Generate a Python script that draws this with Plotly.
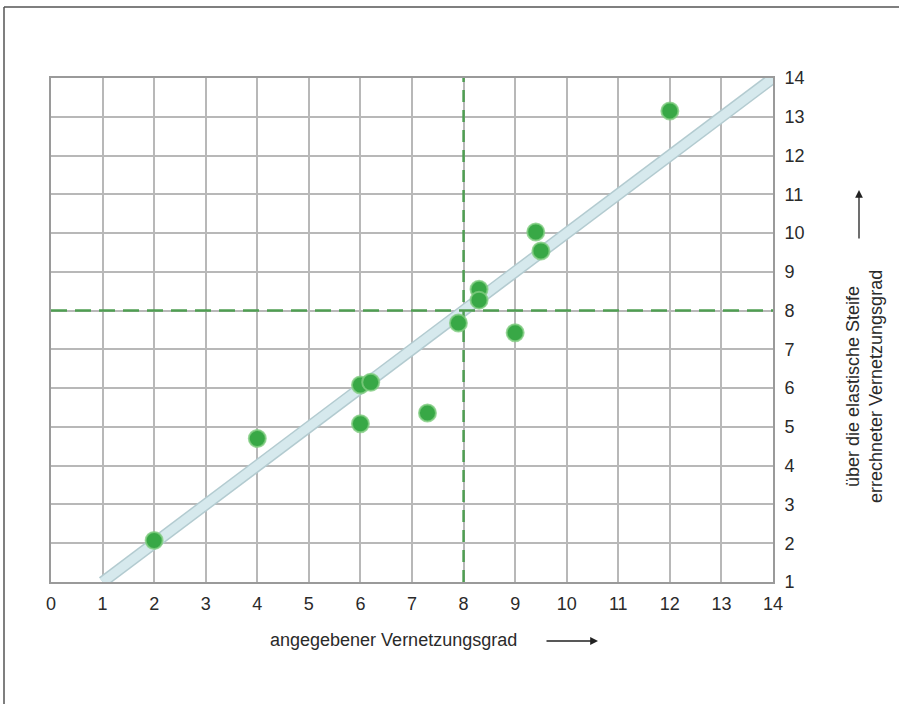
import plotly.graph_objects as go

# Data
x_vals = [2, 4, 6, 6.2, 6, 7.3, 7.9, 8.3, 8.3, 9.0, 9.4, 9.5, 12]
y_vals = [2.07, 4.7, 6.08, 6.15, 5.08, 5.36, 7.68, 8.55, 8.27, 7.43, 10.03, 9.54, 13.15]
ideal_x = [1, 14]
ideal_y = [1, 14]
mark_value = 8
x_ticks = list(range(0, 15))
y_ticks = list(range(1, 15))
x_title = "angegebener Vernetzungsgrad"
y_title = "über die elastische Steife<br>errechneter Vernetzungsgrad"

W, H = 899, 704
L, R, T, B = 51, 773, 78, 582

def px(x):
    return (x - L) / (R - L)

def py(y):
    return (B - y) / (B - T)

fig = go.Figure()

# Reference diagonal (band with edges)
fig.add_trace(go.Scatter(x=ideal_x, y=ideal_y, mode="lines",
                         line=dict(color="#b3cbd0", width=12), hoverinfo="skip", showlegend=False))
fig.add_trace(go.Scatter(x=ideal_x, y=ideal_y, mode="lines",
                         line=dict(color="#d6e9ed", width=9), hoverinfo="skip", showlegend=False))

# Dashed marker lines
dash_color = "#4f9e52"
fig.add_trace(go.Scatter(x=[mark_value, mark_value], y=[1, 14], mode="lines",
                         line=dict(color=dash_color, width=2.5, dash="12px,8px"),
                         hoverinfo="skip", showlegend=False))
fig.add_trace(go.Scatter(x=[0, 14], y=[mark_value, mark_value], mode="lines",
                         line=dict(color=dash_color, width=2.5, dash="16px,8px"),
                         hoverinfo="skip", showlegend=False))

# Data points
fig.add_trace(go.Scatter(x=x_vals, y=y_vals, mode="markers",
                         marker=dict(size=17, color="#38a846",
                                     line=dict(color="rgba(130,205,130,0.8)", width=2)),
                         showlegend=False))

font = dict(family="Liberation Sans, Arial, sans-serif", size=18, color="#2a2a2a")

fig.update_layout(
    width=W, height=H,
    margin=dict(l=L, r=W - R, t=T, b=H - B),
    paper_bgcolor="white", plot_bgcolor="white",
    font=font,
    xaxis=dict(range=[0, 14], tickvals=x_ticks, showgrid=True, gridcolor="#b8b8b8", gridwidth=1.5,
               showline=True, linecolor="#9a9a9a", linewidth=2, mirror=True, zeroline=False,
               ticks="", ticklabelstandoff=4, tickfont=font),
    yaxis=dict(range=[1, 14], tickvals=y_ticks, side="right", showgrid=True, gridcolor="#b8b8b8",
               gridwidth=1.5, showline=True, linecolor="#9a9a9a", linewidth=2, mirror=True,
               zeroline=False, ticks="", ticklabelstandoff=6, tickfont=font),
    annotations=[
        dict(text=x_title, x=px(393), y=py(640), xref="paper", yref="paper",
             showarrow=False, font=font, xanchor="center", yanchor="middle"),
        dict(text="", x=px(598), y=py(641), xref="paper", yref="paper",
             showarrow=True, ax=-53, ay=0, arrowhead=2, arrowsize=1.2, arrowwidth=1.3,
             arrowcolor="#222"),
        dict(text=y_title, x=px(864), y=py(387), xref="paper", yref="paper",
             showarrow=False, font=font, textangle=-90, xanchor="center", yanchor="middle"),
        dict(text="", x=px(859), y=py(190), xref="paper", yref="paper",
             showarrow=True, ax=0, ay=50, arrowhead=2, arrowsize=1.2, arrowwidth=1.3,
             arrowcolor="#222"),
    ],
    shapes=[
        dict(type="line", xref="paper", yref="paper", x0=px(4), x1=px(899), y0=py(7), y1=py(7),
             line=dict(color="#555", width=1.5)),
        dict(type="line", xref="paper", yref="paper", x0=px(4), x1=px(4), y0=py(7), y1=py(704),
             line=dict(color="#555", width=1.5)),
    ],
)

fig.write_html("out.html", config={"displayModeBar": False},
               post_script="document.body.style.margin='0';")
